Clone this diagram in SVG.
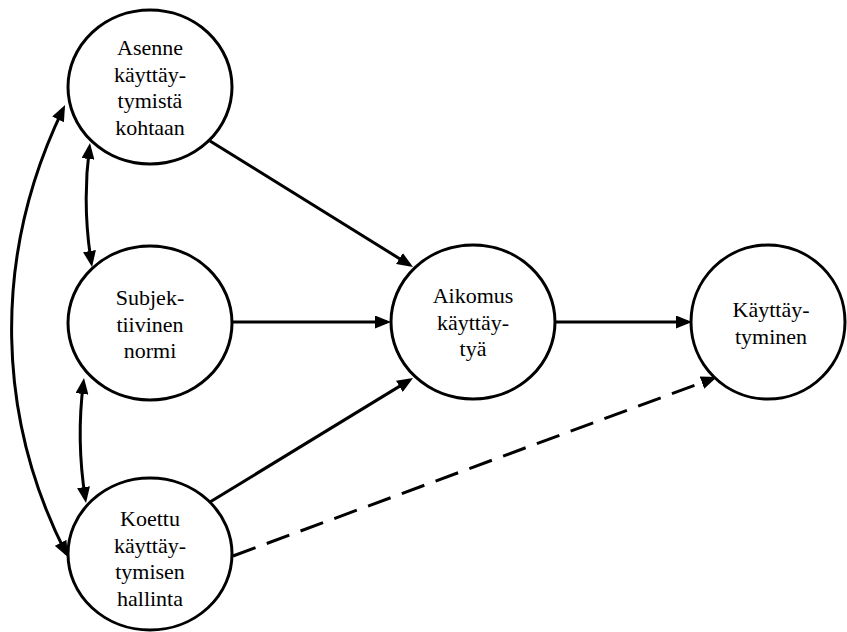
<svg xmlns="http://www.w3.org/2000/svg" width="847" height="632" viewBox="0 0 847 632">
  <style>
    .node ellipse { fill: #ffffff; stroke: #000000; stroke-width: 3; }
    .node text { font-family: "Liberation Serif", "Times New Roman", serif; font-size: 22px; fill: #000000; text-anchor: middle; }
    .edge { fill: none; stroke: #000000; stroke-width: 3; }
    .dashed { stroke-dasharray: 24 12; }
  </style>
  <defs>
    <marker id="arrow" markerUnits="userSpaceOnUse" markerWidth="16" markerHeight="13" viewBox="0 0 16 13" refX="12" refY="6.5" orient="auto-start-reverse">
      <path d="M0,0 L16,6.5 L0,13 z" fill="#000000"/>
    </marker>
  </defs>
  <rect width="847" height="632" fill="#ffffff"/>

  <g id="connectors">
    <!-- attitude, norm and control feed the intention -->
    <path class="edge" d="M210,141 L409.6,264.9" marker-end="url(#arrow)"/>
    <path class="edge" d="M232,322 L387,322" marker-end="url(#arrow)"/>
    <path class="edge" d="M210,502 L409.6,380.1" marker-end="url(#arrow)"/>
    <!-- intention to behaviour -->
    <path class="edge" d="M555,322 L688,322" marker-end="url(#arrow)"/>
    <!-- direct effect of perceived control -->
    <path class="edge dashed" d="M233,556 L713.2,378.4" marker-end="url(#arrow)"/>
    <!-- correlations between the predictors -->
    <path class="edge" d="M89.5,147 Q82,205 91.4,263" marker-start="url(#arrow)" marker-end="url(#arrow)"/>
    <path class="edge" d="M83.5,382 Q76,440 85.4,499" marker-start="url(#arrow)" marker-end="url(#arrow)"/>
    <path class="edge" d="M63.3,108.6 C-10,260 -2,420 66.1,553.5" marker-start="url(#arrow)" marker-end="url(#arrow)"/>
  </g>

  <g id="asenne" class="node">
    <ellipse cx="150" cy="87" rx="82" ry="77"/>
    <text x="150" y="55">Asenne</text>
    <text x="150" y="81.5">käyttäy-</text>
    <text x="150" y="108">tymistä</text>
    <text x="150" y="134.5">kohtaan</text>
  </g>

  <g id="normi" class="node">
    <ellipse cx="150" cy="323" rx="82" ry="77"/>
    <text x="150" y="305">Subjek-</text>
    <text x="150" y="331.5">tiivinen</text>
    <text x="150" y="358">normi</text>
  </g>

  <g id="hallinta" class="node">
    <ellipse cx="150" cy="554" rx="82" ry="76"/>
    <text x="150" y="526">Koettu</text>
    <text x="150" y="552.5">käyttäy-</text>
    <text x="150" y="579">tymisen</text>
    <text x="150" y="605.5">hallinta</text>
  </g>

  <g id="aikomus" class="node">
    <ellipse cx="473" cy="322" rx="82" ry="77"/>
    <text x="473" y="303">Aikomus</text>
    <text x="473" y="329.5">käyttäy-</text>
    <text x="473" y="356">tyä</text>
  </g>

  <g id="kayttaytyminen" class="node">
    <ellipse cx="768" cy="322" rx="77" ry="77"/>
    <text x="771" y="317">Käyttäy-</text>
    <text x="771" y="344">tyminen</text>
  </g>
</svg>
